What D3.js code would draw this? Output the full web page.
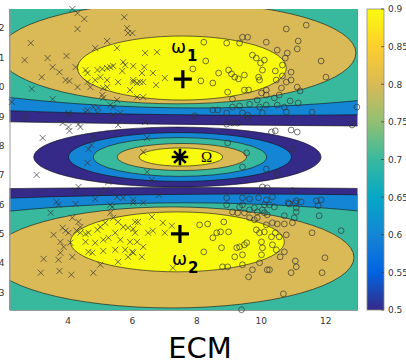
<!DOCTYPE html>
<html>
<head>
<meta charset="utf-8">
<script src="https://d3js.org/d3.v7.min.js"></script>
<style>
  body { margin: 0; background: #fff; }
  svg { display: block; }
</style>
</head>
<body>
<div id="chart"></div>
<script>
// axis ranges and ticks
const xDomain = [2.2, 13];
const yDomain = [2.4, 12.65];
const xTicks = [4, 6, 8, 10, 12];
const yTicks = [3, 4, 5, 6, 7, 8, 9, 10, 11, 12];
const cbTicks = [0.5, 0.55, 0.6, 0.65, 0.7, 0.75, 0.8, 0.85, 0.9];

// contour levels and parula colormap stops
const levels = [0.5, 0.6, 0.7, 0.8, 0.9];
const parulaStops = ["#352a87", "#0363e1", "#1485d4", "#06a7c6", "#38b99e", "#92bf73", "#d9ba56", "#fcce2e", "#f9fb0e"];

// level-set boundaries per cluster, one per level: [cx, cy, rx, ry]
const omega1Ellipses = [[20.17, 13.74, 71.0, 5.10], [10.14, 14.13, 32.3, 5.10], [8.07, 14.38, 15.96, 5.10], [7.41, 11.15, 5.54, 1.73], [7.55, 10.64, 3.24, 1.09]];
const OmegaEllipses = [[7.41, 7.61, 4.46, 1.02], [7.49, 7.61, 3.46, 0.83], [7.49, 7.61, 2.69, 0.66], [7.55, 7.61, 2.01, 0.46], [7.52, 7.61, 1.30, 0.31]];
const omega2Ellipses = [[7.80, 1.47, 48.0, 5.10], [9.65, 1.25, 32.1, 5.10], [7.64, 0.95, 16.57, 5.10], [7.24, 4.19, 5.65, 1.72], [7.41, 4.72, 3.32, 1.02]];

// cluster centres and labels
const centerX = [7.58, 7.49, 7.49];
const centerY = [10.26, 7.61, 4.99];
const centerMark = ["+", "*", "+"];
const labelText = ["\u03c9", "\u03a9", "\u03c9"];
const labelSub = ["1", "", "2"];
const labelX = [7.21, 8.32, 7.24];
const labelY = [11.15, 7.61, 3.94];

// observations
const crossPoints = [
  [4.15,12.65],[4.31,12.51],[4.52,12.31],[5.76,12.37],[4.31,11.97],[5.85,12.00],[5.88,11.83],[2.86,11.49],[5.23,11.56],[4.86,11.32],
  [5.54,11.32],[2.67,10.91],[3.38,10.98],[3.97,11.05],[3.54,10.67],[3.75,10.50],[4.25,10.67],[3.20,10.33],[3.94,10.23],[4.06,10.20],
  [4.31,9.99],[2.89,9.93],[3.54,9.58],[2.27,9.48],[4.56,10.57],[4.62,10.47],[4.93,10.57],[5.08,10.61],[5.23,10.64],[5.33,10.67],
  [5.42,10.71],[5.73,10.84],[5.79,10.74],[5.70,10.54],[5.02,10.33],[4.86,10.23],[4.62,10.16],[4.71,9.99],[5.23,10.23],[5.57,10.16],
  [6.04,10.16],[6.16,10.13],[5.11,9.96],[5.23,9.99],[5.94,9.89],[5.08,9.72],[5.11,9.62],[5.54,9.55],[5.33,9.38],[4.80,9.31],
  [4.62,9.21],[4.96,9.28],[5.42,9.31],[5.64,9.11],[4.03,9.11],[2.67,8.97],
  [6.01,11.83],[6.41,11.15],[6.78,11.18],[6.04,10.71],[6.38,10.67],[6.31,10.47],[6.65,10.47],[7.02,10.30],[6.04,10.23],[6.35,10.16],
  [6.75,10.06],[6.25,10.16],[6.16,9.65],[6.35,9.65],
  [4.03,9.07],[4.56,9.14],[4.93,9.11],[5.42,9.04],[3.85,8.77],[4.03,8.63],[4.06,8.50],[4.34,8.73],[4.40,8.63],[5.57,8.70],
  [3.23,8.26],[4.80,8.29],[4.74,8.02],[4.65,7.88],[4.62,7.41],[3.04,7.00],[5.27,6.76],[4.34,6.59],[4.25,6.46],[5.02,6.39],
  [5.20,6.49],[3.66,6.08],[3.72,5.98],[4.25,6.01],[4.86,6.18],[5.33,5.98],[5.54,6.25],[5.73,6.22],[6.04,6.15],
  [6.41,8.80],[6.47,8.26],[6.35,7.78],[6.47,7.10],[6.62,6.83],[6.04,6.05],[6.35,6.05],[6.84,6.32],
  [3.48,5.71],[4.15,5.54],[4.34,5.40],[4.40,5.23],[3.85,5.20],[3.94,5.10],[4.03,5.03],[3.57,4.96],[4.28,5.10],[4.40,5.03],
  [4.56,4.99],[4.65,5.03],[4.93,5.13],[5.02,5.23],[5.17,5.37],[5.33,5.71],[5.42,5.54],[5.57,5.40],[5.73,5.23],[5.88,5.20],
  [6.10,5.40],[5.39,5.91],[3.78,4.72],[3.88,4.55],[4.09,4.69],[4.56,4.72],[4.86,4.69],[5.11,4.79],[5.27,4.86],[5.48,5.03],
  [5.64,4.79],[5.94,4.72],[6.10,5.03],[4.65,4.38],[4.77,4.35],[5.11,4.41],[5.48,4.45],[5.79,4.45],[6.01,4.38],[3.78,4.35],
  [3.26,4.14],[3.72,4.11],[4.15,4.21],[5.57,4.04],[5.02,3.94],[3.17,3.67],[3.75,3.73],[4.12,3.60],[4.80,3.67],[5.88,4.21],
  [6.19,5.40],[6.62,5.57],[6.96,5.37],[7.24,5.27],[6.04,5.16],[6.50,5.03],[6.65,5.10],[7.02,5.03],[6.16,4.72],[6.35,4.55],
  [6.04,4.35],[6.31,4.21],[7.27,3.84]
];
const circlePoints = [
  [8.23,11.52],[8.94,11.49],[9.34,11.49],[9.43,11.69],[9.59,11.69],[10.17,11.52],[8.29,10.88],[7.89,10.61],[8.69,10.47],[8.14,10.20],
  [8.51,10.13],[9.00,10.57],[9.09,10.44],[9.19,10.33],[9.31,10.27],[9.49,10.40],[9.74,11.08],[9.86,10.98],[9.99,10.81],[10.11,10.91],
  [9.93,10.33],[9.96,10.23],[8.97,9.82],[9.49,9.89],[9.62,9.89],[9.12,9.58],[10.02,9.79],[10.17,9.72],[9.65,9.41],[9.89,9.55],
  [9.34,9.35],[8.51,9.21],[8.66,9.21],[9.12,9.31],[7.95,9.01],[9.43,9.11],[9.59,9.04],[10.17,9.38],[10.05,9.11],
  [11.41,12.10],[10.79,11.97],[11.16,11.56],[11.13,11.29],[10.51,11.25],[10.82,11.15],[10.76,10.98],[11.87,10.88],[10.05,10.57],[10.45,10.54],
  [10.67,10.74],[10.94,10.50],[10.67,10.37],[10.48,10.23],[10.94,10.23],[10.79,10.16],[12.02,10.33],[11.13,9.99],[11.22,9.86],[10.17,9.89],
  [10.64,9.96],[10.57,9.72],[10.42,9.62],[10.91,9.52],[11.16,9.45],[10.51,9.38],[10.73,9.31],[10.79,9.14],[11.59,9.14],[12.98,9.31],
  [9.96,9.31],
  [8.94,9.11],[8.94,8.73],[9.12,8.77],[9.28,8.77],[9.59,8.94],[8.97,8.09],[9.56,7.75],[9.43,7.27],[8.94,6.22],[9.43,6.22],
  [9.65,6.18],[9.93,6.22],[10.17,6.15],[9.34,5.91],
  [10.33,8.46],[10.45,8.50],[10.94,8.53],[11.13,8.46],[10.98,7.88],[12.83,8.70],[10.17,7.20],[10.51,7.03],[10.05,6.59],[10.20,6.56],
  [10.98,6.46],[10.36,6.25],[11.10,6.12],[11.25,6.08],[11.72,6.12],[11.87,6.15],[10.88,6.01],[10.27,5.98],[10.42,5.91],[11.78,5.95],
  [11.10,5.88],
  [8.10,5.30],[8.35,5.33],[8.85,5.40],[8.75,5.06],[8.63,5.03],[9.00,5.06],[8.51,4.86],[8.78,4.52],[8.23,4.38],[9.25,4.52],
  [9.34,4.55],[9.49,4.62],[9.56,4.69],[9.43,4.28],[9.19,4.21],[9.86,5.13],[9.96,5.03],[10.11,5.06],[10.17,5.30],[10.02,4.28],
  [10.05,4.52],[9.43,3.94],[8.81,3.87],[8.97,3.87],[9.74,3.77],[9.62,3.53],[10.20,3.77],[9.40,2.41],[8.94,5.98],[9.43,5.98],
  [9.12,5.74],[9.28,5.71],[9.49,5.71],[9.65,5.81],[9.80,5.88],[9.89,5.74],[10.05,5.81],[10.20,5.64],[10.11,5.98],[9.89,5.54],
  [9.80,5.47],[9.65,5.54],
  [10.85,6.05],[11.07,6.05],[10.11,5.71],[10.73,5.61],[11.10,5.74],[11.04,5.54],[10.98,5.37],[11.81,5.61],[10.51,5.33],[10.73,5.33],
  [10.36,5.37],[10.45,5.03],[10.33,4.89],[10.57,4.89],[10.79,4.96],[11.59,5.03],[12.49,5.10],[10.02,4.72],[10.36,4.62],[10.48,4.45],
  [10.73,4.38],[9.96,4.01],[10.60,4.21],[11.07,4.07],[11.10,3.87],[11.99,4.18],[10.27,3.77],[10.94,3.67],[11.90,3.67],[10.70,2.95]
];

const width = 406, height = 362;
const plot = {left: 9.5, right: 357.5, top: 9, bottom: 310};
const cbar = {left: 367, width: 17};
const font = "'DejaVu Sans', sans-serif";

const svg = d3.select("#chart").append("svg")
  .attr("width", width)
  .attr("height", height);

const x = d3.scaleLinear().domain(xDomain).range([plot.left, plot.right]);
const y = d3.scaleLinear().domain(yDomain).range([plot.bottom, plot.top]);
const parula = d3.piecewise(d3.interpolateRgb, parulaStops);
const color = d3.scaleSequential(parula).domain([0.5, 0.9]);

svg.append("clipPath").attr("id", "plotClip")
  .append("rect")
  .attr("x", plot.left).attr("y", plot.top)
  .attr("width", plot.right - plot.left).attr("height", plot.bottom - plot.top);

// filled contour bands, lowest level first
const bands = [];
levels.forEach((lv, i) => {
  [omega1Ellipses, OmegaEllipses, omega2Ellipses].forEach(arr => bands.push({level: lv, e: arr[i]}));
});

svg.append("g")
  .attr("clip-path", "url(#plotClip)")
  .selectAll("ellipse")
  .data(bands)
  .join("ellipse")
  .attr("cx", d => x(d.e[0]))
  .attr("cy", d => y(d.e[1]))
  .attr("rx", d => x(d.e[0] + d.e[2]) - x(d.e[0]))
  .attr("ry", d => y(d.e[1]) - y(d.e[1] + d.e[3]))
  .attr("fill", d => color(d.level))
  .attr("stroke", "#111")
  .attr("stroke-width", 0.6);

// axes
const xAxis = svg.append("g")
  .attr("transform", `translate(0,${plot.bottom})`)
  .call(d3.axisBottom(x).tickValues(xTicks).tickSize(0).tickPadding(8).tickFormat(d3.format("d")));
const yAxis = svg.append("g")
  .attr("transform", `translate(${plot.left},0)`)
  .call(d3.axisLeft(y).tickValues(yTicks).tickSize(0).tickPadding(5).tickFormat(d3.format("d")));
[xAxis, yAxis].forEach(a => {
  a.select(".domain").attr("stroke", "#9a9a9a").attr("stroke-width", 1);
  a.selectAll("text").attr("font-family", font).attr("font-size", 9).attr("fill", "#333");
});

// observations
svg.append("g")
  .selectAll("path")
  .data(crossPoints)
  .join("path")
  .attr("transform", d => `translate(${x(d[0])},${y(d[1])})`)
  .attr("d", "M-3,-3L3,3M-3,3L3,-3")
  .attr("fill", "none")
  .attr("stroke", "#333")
  .attr("stroke-opacity", 0.85)
  .attr("stroke-width", 0.8);

svg.append("g")
  .selectAll("circle")
  .data(circlePoints)
  .join("circle")
  .attr("cx", d => x(d[0]))
  .attr("cy", d => y(d[1]))
  .attr("r", 2.9)
  .attr("fill", "none")
  .attr("stroke", "#333")
  .attr("stroke-opacity", 0.85)
  .attr("stroke-width", 0.8);

// centres
const markPath = {
  "+": "M-9,0H9M0,-9V9",
  "*": "M-8.3,0H8.3M0,-8.3V8.3M-5.9,-5.9L5.9,5.9M-5.9,5.9L5.9,-5.9"
};
svg.append("g")
  .selectAll("path")
  .data(d3.range(centerX.length))
  .join("path")
  .attr("transform", i => `translate(${x(centerX[i])},${y(centerY[i])})`)
  .attr("d", i => markPath[centerMark[i]])
  .attr("stroke", "#000")
  .attr("stroke-width", i => centerMark[i] === "+" ? 3.2 : 2.6)
  .attr("fill", "none");

// cluster labels
const labels = svg.append("g")
  .selectAll("text")
  .data(d3.range(labelText.length))
  .join("text")
  .attr("x", i => x(labelX[i]))
  .attr("y", i => y(labelY[i]))
  .attr("text-anchor", i => labelSub[i] ? "start" : "middle")
  .attr("dy", i => labelSub[i] ? 0 : "0.35em")
  .attr("font-family", i => labelSub[i] ? font : "'Liberation Serif', serif")
  .attr("font-size", i => labelSub[i] ? 18 : 15)
  .attr("fill", "#000");
labels.append("tspan").text(i => labelText[i]);
labels.filter(i => labelSub[i])
  .append("tspan")
  .attr("dy", 8)
  .attr("dx", 1)
  .attr("font-size", 15)
  .attr("font-weight", "bold")
  .text(i => labelSub[i]);

// colorbar
const cb = d3.scaleLinear().domain([0.5, 0.9]).range([plot.bottom, plot.top]);
const grad = svg.append("defs").append("linearGradient")
  .attr("id", "cbGrad")
  .attr("x1", 0).attr("y1", 1).attr("x2", 0).attr("y2", 0);
grad.selectAll("stop")
  .data(d3.range(0, 1.0001, 1 / 32))
  .join("stop")
  .attr("offset", t => t)
  .attr("stop-color", t => parula(t));
svg.append("rect")
  .attr("x", cbar.left).attr("y", plot.top)
  .attr("width", cbar.width).attr("height", plot.bottom - plot.top)
  .attr("fill", "url(#cbGrad)")
  .attr("stroke", "#8a8a8a")
  .attr("stroke-width", 0.8);
svg.append("g")
  .selectAll("line")
  .data(cbTicks)
  .join("line")
  .attr("x1", cbar.left + cbar.width - 3).attr("x2", cbar.left + cbar.width)
  .attr("y1", d => cb(d)).attr("y2", d => cb(d))
  .attr("stroke", "#444").attr("stroke-width", 0.8);
const cbAxis = svg.append("g")
  .attr("transform", `translate(${cbar.left + cbar.width},0)`)
  .call(d3.axisRight(cb).tickValues(cbTicks).tickSize(0).tickPadding(4).tickFormat(d => String(+d.toFixed(2))));
cbAxis.select(".domain").remove();
cbAxis.selectAll("text").attr("font-family", font).attr("font-size", 9).attr("fill", "#333");

// title
svg.append("text")
  .attr("x", 200)
  .attr("y", 358)
  .attr("text-anchor", "middle")
  .attr("font-family", font)
  .attr("font-size", 29)
  .attr("fill", "#000")
  .text("ECM");
</script>
</body>
</html>
